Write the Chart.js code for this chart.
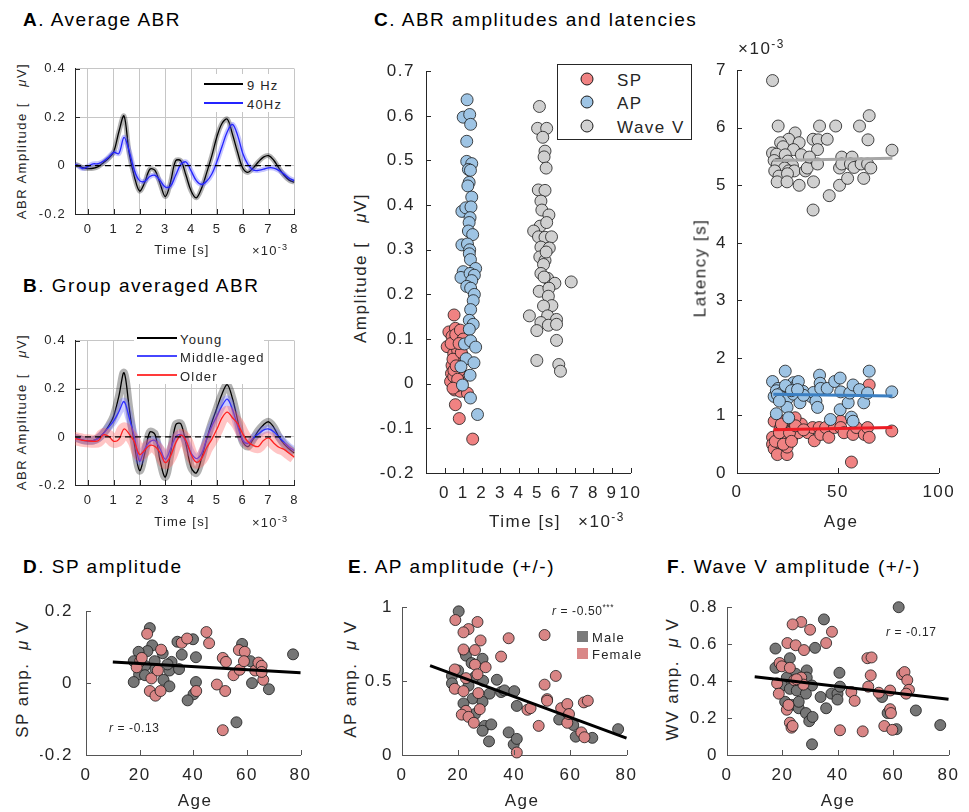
<!DOCTYPE html>
<html>
<head>
<meta charset="utf-8">
<script src="https://cdn.jsdelivr.net/npm/chart.js@4.4.1/dist/chart.umd.min.js"></script>
<style>
  body { margin: 0; background: #fff; }
  #fig { position: relative; width: 969px; height: 812px; overflow: hidden; background: #fff;
         font-family: "Liberation Sans", Arial, sans-serif; color: #262626; }
  .box { position: absolute; }
  .t { position: absolute; white-space: nowrap; line-height: 1; }
  .title { font-size: 19px; letter-spacing: 1.5px; color: #000; transform: translateY(-50%); }
  .ax { font-size: 17px; letter-spacing: 1.5px; }
  .sm { font-size: 13px; letter-spacing: 1.2px; }
  .rot { transform: translate(-50%, -50%) rotate(-90deg); }
  .ctr { transform: translate(-50%, -50%); }
  .mid { transform: translateY(-50%); }
  .seg { position: absolute; height: 2px; }
  .wbg { position: absolute; background: #fff; }
  .dot { position: absolute; width: 11px; height: 11px; border-radius: 50%; border: 1px solid #1a1a1a; transform: translate(-50%, -50%); }
  .sq { position: absolute; width: 11px; height: 11px; }
  sup { font-size: 70%; }
</style>
</head>
<body>
<div id="fig">
  <div class="box" id="cA"></div>
  <div class="box" id="cB"></div>
  <div class="box" id="cCL"></div>
  <div class="box" id="cCR"></div>
  <div class="box" id="cD"></div>
  <div class="box" id="cE"></div>
  <div class="box" id="cF"></div>

  <!-- panel titles -->
  <div class="t title" style="left:23px;top:19px"><b>A</b>. Average ABR</div>
  <div class="t title" style="left:23px;top:285px"><b>B</b>. Group averaged ABR</div>
  <div class="t title" style="left:374px;top:19px"><b>C</b>. ABR amplitudes and latencies</div>
  <div class="t title" style="left:23px;top:566px"><b>D</b>. SP amplitude</div>
  <div class="t title" style="left:348px;top:566px"><b>E</b>. AP amplitude (+/-)</div>
  <div class="t title" style="left:667px;top:566px"><b>F</b>. Wave V amplitude (+/-)</div>

  <!-- axis titles -->
  <div class="t sm rot" style="left:21px;top:141px;letter-spacing:1.5px">ABR Amplitude [&nbsp;&nbsp;&nbsp;<i>μ</i>V]</div>
  <div class="t sm ctr" style="left:182px;top:249px">Time [s]</div>
  <div class="t sm mid" style="left:252px;top:250px">×10<sup>-3</sup></div>
  <div class="t sm rot" style="left:21px;top:412px;letter-spacing:1.5px">ABR Amplitude [&nbsp;&nbsp;&nbsp;<i>μ</i>V]</div>
  <div class="t sm ctr" style="left:182px;top:521px">Time [s]</div>
  <div class="t sm mid" style="left:252px;top:522px">×10<sup>-3</sup></div>

  <div class="t ax rot" style="left:360px;top:268px">Amplitude [&nbsp;&nbsp;&nbsp;<i>μ</i>V]</div>
  <div class="t ax ctr" style="left:525px;top:521px">Time [s]</div>
  <div class="t ax mid" style="left:578px;top:521px">×10<sup>-3</sup></div>
  <div class="t ax rot" style="left:700px;top:268px">Latency [s]</div>
  <div class="t ax mid" style="left:738px;top:48px">×10<sup>-3</sup></div>
  <div class="t ax ctr" style="left:841px;top:521px">Age</div>

  <div class="t ax rot" style="left:22px;top:679px">SP amp.&nbsp;&nbsp;<i>μ</i> V</div>
  <div class="t ax ctr" style="left:195px;top:800px">Age</div>
  <div class="t ax rot" style="left:350px;top:679px">AP amp.&nbsp;&nbsp;<i>μ</i> V</div>
  <div class="t ax ctr" style="left:522px;top:800px">Age</div>
  <div class="t ax rot" style="left:672px;top:679px">WV amp.&nbsp;&nbsp;<i>μ</i> V</div>
  <div class="t ax ctr" style="left:838px;top:800px">Age</div>

  <!-- legends -->
  <div class="wbg" style="left:200px;top:74px;width:93px;height:38px"></div>
  <div class="seg" style="left:204px;top:83px;width:39px;background:#000"></div>
  <div class="t sm mid" style="left:247px;top:85px">9 Hz</div>
  <div class="seg" style="left:204px;top:102px;width:39px;background:#2424ff"></div>
  <div class="t sm mid" style="left:247px;top:104px">40Hz</div>

  <div class="wbg" style="left:134px;top:329px;width:130px;height:55px"></div>
  <div class="seg" style="left:137px;top:337px;width:40px;background:#000"></div>
  <div class="t sm mid" style="left:180px;top:339px">Young</div>
  <div class="seg" style="left:137px;top:355px;width:40px;background:#4646ff"></div>
  <div class="t sm mid" style="left:180px;top:357px">Middle-aged</div>
  <div class="seg" style="left:137px;top:374px;width:40px;background:#ff3a3a"></div>
  <div class="t sm mid" style="left:180px;top:376px">Older</div>

  <div style="position:absolute;left:557px;top:64px;width:133px;height:74px;border:1px solid #262626;background:#fff"></div>
  <div class="dot" style="left:587px;top:79px;background:#f08282"></div>
  <div class="t ax mid" style="left:617px;top:80px">SP</div>
  <div class="dot" style="left:587px;top:102px;background:#9ec4e4"></div>
  <div class="t ax mid" style="left:617px;top:103px">AP</div>
  <div class="dot" style="left:587px;top:126px;background:#d0d0d0"></div>
  <div class="t ax mid" style="left:617px;top:127px">Wave V</div>

  <div class="sq" style="left:577px;top:631px;background:#7a7a7a"></div>
  <div class="t sm mid" style="left:592px;top:637px">Male</div>
  <div class="sq" style="left:577px;top:648px;background:#d98787"></div>
  <div class="t sm mid" style="left:592px;top:654px">Female</div>

  <div class="t sm mid" style="left:109px;top:728px;font-size:12px;letter-spacing:0.6px"><i>r</i> = -0.13</div>
  <div class="t sm mid" style="left:552px;top:610px;font-size:12px;letter-spacing:0.6px"><i>r</i> = -0.50<sup>***</sup></div>
  <div class="t sm mid" style="left:886px;top:632px;font-size:12px;letter-spacing:0.6px"><i>r</i> = -0.17</div>
</div>

<script>
// ---- A / B : ABR waveforms (time in ms) ----
const timeMs = [-0.6, -0.4, -0.2, 0, 0.2, 0.4, 0.6, 0.8, 1.0, 1.2, 1.4, 1.6, 1.8, 2.0, 2.2, 2.4, 2.6, 2.8, 3.0, 3.2, 3.4, 3.6,
                3.8, 4.0, 4.2, 4.4, 4.6, 4.8, 5.0, 5.2, 5.4, 5.6, 5.8, 6.0, 6.2, 6.4, 6.6, 6.8, 7.0, 7.2, 7.4, 7.6, 7.8, 8.0];
const abr9Hz = [0.006, 0.002, -0.008, -0.012, -0.011, -0.004, 0.012, 0.03, 0.057, 0.14, 0.205, 0.05, -0.045, -0.105, -0.07,
                -0.015, -0.02, -0.075, -0.128, -0.07, 0.02, 0.02, -0.04, -0.105, -0.133, -0.095, -0.03, 0.04, 0.12, 0.175, 0.192,
                0.13, 0.055, -0.01, -0.028, -0.01, 0.015, 0.035, 0.041, 0.022, -0.01, -0.04, -0.06, -0.069];
const abr40Hz = [0.006, 0.0, -0.012, -0.003, 0.007, 0.008, 0.018, 0.035, 0.055, 0.05, 0.117, 0.06, -0.02, -0.062, -0.065,
                 -0.045, -0.04, -0.062, -0.089, -0.085, -0.04, 0.005, 0.015, -0.022, -0.062, -0.078, -0.065, -0.035, 0.017, 0.08,
                 0.14, 0.17, 0.125, 0.05, 0.005, -0.018, -0.02, -0.015, -0.009, -0.01, -0.02, -0.035, -0.052, -0.062];
const abrYoung = [-0.004, -0.006, -0.013, -0.016, -0.015, -0.005, 0.015, 0.045, 0.087, 0.17, 0.267, 0.12, -0.03, -0.14, -0.07,
                  0.02, 0.01, -0.1, -0.167, -0.07, 0.05, 0.055, -0.03, -0.127, -0.15, -0.09, -0.01, 0.06, 0.12, 0.18, 0.217,
                  0.16, 0.07, -0.02, -0.04, -0.01, 0.025, 0.05, 0.063, 0.04, 0.0, -0.03, -0.05, -0.067];
const abrMiddle = [-0.004, -0.006, -0.013, -0.016, -0.015, -0.006, 0.015, 0.04, 0.067, 0.105, 0.147, 0.08, 0.0, -0.1, -0.05,
                   -0.02, -0.015, -0.05, -0.093, -0.05, 0.0, 0.01, -0.02, -0.067, -0.09, -0.07, -0.01, 0.045, 0.087, 0.13, 0.157,
                   0.115, 0.045, -0.013, -0.027, -0.005, 0.012, 0.028, 0.033, 0.022, 0.0, -0.022, -0.043, -0.057];
const abrOlder = [-0.005, -0.009, -0.014, -0.016, -0.018, -0.016, 0.009, 0.003, -0.018, -0.01, 0.033, 0.012, -0.02, -0.073, -0.055,
                  -0.035, -0.04, -0.065, -0.107, -0.08, -0.025, 0.007, -0.015, -0.073, -0.105, -0.09, -0.045, -0.01, 0.033, 0.08,
                  0.103, 0.08, 0.055, 0.013, -0.02, -0.035, -0.04, -0.015, -0.004, -0.025, -0.043, -0.052, -0.068, -0.084];
const abrTicksX = [0, 1, 2, 3, 4, 5, 6, 7, 8];
const abrTicksY = [-0.2, 0, 0.2, 0.4];

// ---- C left : amplitude vs peak time (ms) ----
const spTime = [0.51, 0.23, 0.58, 0.40, 0.75, 0.14, 0.61, 0.89, 0.49, 0.72, 0.58, 0.40, 0.67, 0.37, 0.75, 0.61, 0.54, 0.84, 1.23,
                0.58, 0.79, 1.51, 0.96, 0.84, 0.32, 0.49, 0.93, 0.70, 0.55, 0.80, 0.45, 0.65, 0.35, 0.60, 0.85, 0.50, 0.70,
                0.90, 1.00, 0.45, 0.62, 0.78];
const spAmp = [0.154, 0.116, 0.124, 0.106, 0.107, 0.083, 0.085, 0.089, 0.067, 0.060, 0.049, 0.041, 0.034, 0.023, 0.019, 0.001,
               -0.014, -0.017, -0.021, -0.047, -0.078, -0.124, 0.063, 0.049, 0.005, 0.016, 0.001, 0.075, 0.095, 0.030, 0.055, -0.005,
               0.090, 0.110, 0.120, 0.030, 0.010, 0.070, 0.100, -0.010, 0.040, 0.090];
const apTime = [1.21, 1.00, 1.35, 1.40, 1.19, 1.19, 1.46, 1.28, 1.39, 1.32, 1.25, 1.46, 0.93, 1.14, 1.42, 1.37, 1.32, 1.28, 1.51,
                0.93, 1.23, 1.35, 1.33, 1.39, 1.67, 1.00, 0.88, 1.37, 1.60, 1.46, 1.19, 1.40, 1.60, 1.54, 1.40, 1.33, 1.54, 1.33,
                1.07, 1.40, 1.67, 1.16, 1.58, 0.88, 1.37, 0.96, 1.39, 1.77];
const apAmp = [0.636, 0.597, 0.603, 0.581, 0.543, 0.498, 0.493, 0.480, 0.478, 0.451, 0.443, 0.418, 0.386, 0.394, 0.396, 0.372,
               0.361, 0.342, 0.334, 0.311, 0.313, 0.300, 0.291, 0.278, 0.258, 0.251, 0.238, 0.247, 0.243, 0.231, 0.218, 0.214,
               0.200, 0.186, 0.166, 0.142, 0.133, 0.122, 0.089, 0.096, 0.082, 0.056, 0.047, 0.038, 0.019, -0.003, -0.032, -0.069];
const wvTime = [5.10, 5.00, 5.49, 5.28, 5.40, 5.35, 5.46, 5.04, 5.40, 5.18, 5.23, 5.61, 5.14, 4.79, 5.49, 5.05, 5.40, 5.75, 5.18,
                5.63, 5.12, 5.40, 5.32, 5.18, 5.54, 5.93, 6.81, 5.09, 5.61, 5.58, 5.77, 5.32, 4.56, 5.54, 6.02, 5.18, 5.58, 4.96,
                6.02, 4.96, 6.14, 6.23, 6.02, 5.35, 5.46];
const wvAmp = [0.621, 0.572, 0.572, 0.552, 0.521, 0.508, 0.483, 0.434, 0.433, 0.409, 0.389, 0.378, 0.353, 0.342, 0.361, 0.329,
               0.328, 0.329, 0.306, 0.304, 0.284, 0.276, 0.267, 0.247, 0.236, 0.225, 0.228, 0.207, 0.214, 0.196, 0.175, 0.174,
               0.152, 0.152, 0.144, 0.137, 0.131, 0.119, 0.097, 0.052, 0.043, 0.028, 0.133, 0.239, 0.295];
const timeTicksC = [0, 1, 2, 3, 4, 5, 6, 7, 8, 9, 10];
const ampTicksC = [-0.2, -0.1, 0, 0.1, 0.2, 0.3, 0.4, 0.5, 0.6, 0.7];

// ---- C right : latency (ms) vs age ----
const wvAgeL = [17.6, 20.4, 28.8, 25.6, 21.6, 30.8, 22.8, 28.0, 17.6, 19.6, 23.9, 31.9, 18.4, 25.2, 20.0, 27.5, 23.6, 18.7, 25.6,
                28.4, 20.8, 25.0, 19.9, 24.8, 30.8, 33.9, 34.8, 37.7, 40.9, 40.2, 44.7, 39.9, 35.9, 39.9, 37.9, 37.7, 45.7, 48.9,
                50.8, 50.8, 51.9, 51.9, 54.8, 57.0, 56.2, 58.0, 60.7, 65.5, 64.9, 62.8, 61.5, 64.7, 66.3, 76.8];
const wvLat = [6.82, 6.03, 5.91, 5.80, 5.74, 5.74, 5.67, 5.62, 5.56, 5.54, 5.53, 5.53, 5.43, 5.42, 5.36, 5.34, 5.30, 5.25, 5.25,
               5.25, 5.16, 5.20, 5.06, 5.06, 5.00, 5.25, 5.30, 5.80, 6.03, 5.79, 5.80, 5.62, 5.49, 5.37, 5.06, 4.57, 4.82, 6.03,
               5.00, 5.30, 5.49, 5.37, 5.12, 5.49, 5.37, 5.31, 6.03, 6.21, 5.79, 5.12, 5.37, 5.37, 5.30, 5.61];
const apAgeL = [17.6, 23.9, 20.4, 18.4, 19.5, 22.0, 25.6, 22.7, 25.2, 24.8, 19.5, 25.6, 28.0, 29.6, 30.4, 28.0, 31.2, 32.7, 36.7,
                37.9, 39.1, 39.9, 40.9, 41.2, 41.5, 44.7, 46.3, 48.4, 51.1, 51.4, 51.1, 55.1, 55.9, 57.5, 56.7, 57.5, 60.7, 62.8,
                64.7, 65.5, 76.7, 20.0, 24.0, 27.0, 33.0, 21.0, 30.0];
const apLat = [1.59, 1.77, 1.47, 1.33, 1.43, 1.39, 1.47, 1.27, 1.30, 1.14, 1.03, 0.96, 1.57, 1.53, 1.59, 1.37, 1.22, 1.42, 1.33,
               1.40, 1.25, 1.14, 1.70, 1.56, 1.47, 1.47, 0.93, 1.59, 1.65, 1.41, 1.10, 1.22, 1.39, 1.53, 0.97, 0.90, 1.45, 1.22,
               1.39, 1.77, 1.41, 1.36, 1.52, 1.43, 1.35, 1.25, 1.45];
const spAgeL = [18.4, 17.6, 17.6, 18.4, 20.0, 24.8, 24.8, 20.8, 23.0, 25.6, 21.6, 24.8, 27.2, 28.0, 27.2, 30.4, 31.9, 35.1, 37.5,
                38.3, 40.7, 41.5, 43.9, 45.5, 48.3, 51.4, 51.4, 53.0, 56.7, 57.5, 59.1, 63.1, 64.7, 65.5, 65.5, 76.7, 28.8, 23.0,
                19.0, 21.0, 23.0, 26.0, 29.0, 33.0, 22.0, 27.0];
const spLat = [0.90, 0.62, 0.50, 0.42, 0.32, 0.32, 0.45, 0.53, 0.62, 0.62, 0.79, 0.85, 0.90, 0.76, 0.62, 0.70, 0.85, 0.70, 0.79,
               0.56, 0.79, 0.67, 0.79, 0.62, 0.79, 0.90, 0.79, 0.70, 0.19, 0.67, 0.79, 0.67, 0.79, 0.62, 1.53, 0.73, 0.96, 0.90,
               0.55, 0.70, 0.50, 0.70, 0.82, 0.75, 0.85, 0.55];
const latFitAge = [18, 77];
const wvLatFit = [5.43, 5.47];
const apLatFit = [1.37, 1.34];
const spLatFit = [0.75, 0.79];
const ageTicksC = [0, 50, 100];
const latTicks = [0, 1, 2, 3, 4, 5, 6, 7];

// ---- D : SP amplitude vs age ----
const maleAgeD = [23.8, 24.7, 22.9, 19.6, 28.6, 25.6, 17.8, 22.0, 25.9, 19.8, 22.0, 17.8, 28.9, 31.1, 31.1, 31.9, 34.7, 34.1, 35.7,
                  39.9, 41.0, 40.1, 37.9, 41.0, 56.1, 58.2, 61.3, 61.9, 68.2, 77.2, 30.4];
const maleSpD = [0.153, 0.105, 0.089, 0.087, 0.083, 0.061, 0.061, 0.048, 0.039, 0.024, 0.022, 0.003, 0.009, -0.009, 0.035, 0.059,
                 0.039, 0.115, 0.079, 0.122, 0.072, -0.031, -0.048, 0.003, -0.109, 0.109, 0.061, 0.0, -0.017, 0.08, 0.052];
const femaleAgeD = [22.8, 28.0, 20.2, 18.9, 24.4, 23.8, 25.9, 27.8, 35.7, 37.7, 41.1, 44.9, 45.9, 48.8, 51.0, 52.2, 51.9, 51.0,
                    55.0, 57.3, 57.0, 59.2, 58.9, 63.1, 64.3, 65.5, 66.1, 20.8, 26.8, 65.5];
const femaleSpD = [0.137, 0.093, 0.061, 0.044, 0.013, -0.022, -0.035, -0.022, 0.112, 0.124, -0.022, 0.142, 0.111, -0.004, 0.07,
                   0.059, -0.022, -0.131, 0.022, 0.037, 0.092, 0.087, 0.061, 0.035, 0.057, 0.048, 0.009, 0.07, 0.035, 0.031];

// ---- E : AP amplitude vs age ----
const maleAgeE = [20.2, 22.5, 22.8, 28.7, 24.8, 20.0, 17.8, 26.0, 28.9, 17.8, 23.7, 25.2, 31.2, 21.9, 28.7, 26.0, 29.5, 31.8, 28.7,
                  31.0, 33.8, 35.3, 36.5, 40.0, 40.9, 38.0, 39.8, 40.9, 57.8, 56.0, 61.0, 61.9, 67.8, 77.0];
const maleApE = [0.972, 0.694, 0.672, 0.651, 0.622, 0.572, 0.535, 0.528, 0.502, 0.485, 0.469, 0.382, 0.415, 0.349, 0.36, 0.277,
                 0.197, 0.207, 0.164, 0.092, 0.509, 0.426, 0.437, 0.432, 0.332, 0.153, 0.072, 0.109, 0.288, 0.24, 0.203, 0.124,
                 0.116, 0.175];
const femaleAgeE = [19.0, 26.9, 23.7, 21.9, 28.0, 21.9, 26.0, 26.0, 29.8, 18.8, 26.9, 22.8, 18.8, 21.9, 27.2, 27.7, 22.8, 21.3,
                    23.7, 25.6, 35.3, 38.0, 40.9, 44.7, 45.8, 48.7, 50.8, 50.8, 51.7, 51.7, 54.8, 56.7, 58.9, 58.9, 63.9, 65.0,
                    64.8, 66.2, 59.5];
const femaleApE = [0.913, 0.90, 0.852, 0.83, 0.775, 0.714, 0.71, 0.611, 0.594, 0.579, 0.546, 0.52, 0.448, 0.432, 0.419, 0.31,
                   0.299, 0.273, 0.258, 0.218, 0.666, 0.79, 0.017, 0.306, 0.317, 0.197, 0.812, 0.476, 0.378, 0.367, 0.535, 0.317,
                   0.345, 0.218, 0.153, 0.12, 0.356, 0.367, 0.277];

// ---- F : wave V amplitude vs age ----
const maleAgeF = [62.0, 35.0, 17.5, 31.8, 22.7, 17.5, 24.8, 28.8, 28.8, 21.6, 19.8, 30.7, 24.8, 22.7, 25.2, 28.5, 33.8, 37.7, 39.9,
                  39.9, 35.8, 21.0, 23.3, 25.9, 25.9, 28.5, 29.7, 30.9, 30.7, 40.6, 40.8, 56.0, 58.0, 61.2, 68.2, 77.0];
const maleWvF = [0.80, 0.734, 0.576, 0.58, 0.524, 0.472, 0.44, 0.458, 0.419, 0.419, 0.376, 0.376, 0.393, 0.358, 0.349, 0.332,
                 0.314, 0.332, 0.332, 0.3, 0.253, 0.288, 0.271, 0.253, 0.288, 0.227, 0.183, 0.206, 0.058, 0.445, 0.37, 0.314,
                 0.227, 0.14, 0.241, 0.162];
const femaleAgeF = [26.8, 23.7, 30.0, 37.9, 35.8, 21.8, 24.8, 27.8, 19.0, 19.8, 22.7, 26.8, 18.1, 27.6, 18.7, 21.6, 22.2, 22.7,
                    23.3, 23.7, 40.8, 44.9, 46.1, 49.0, 50.7, 52.2, 51.9, 51.0, 54.8, 58.9, 58.9, 59.2, 56.8, 59.7, 63.2, 64.1,
                    65.1, 65.7, 64.7, 24.3, 25.1];
const femaleWvF = [0.72, 0.707, 0.678, 0.667, 0.606, 0.606, 0.594, 0.568, 0.498, 0.48, 0.472, 0.419, 0.388, 0.381, 0.332, 0.245,
                   0.271, 0.175, 0.148, 0.157, 0.134, 0.341, 0.293, 0.128, 0.524, 0.528, 0.431, 0.37, 0.337, 0.349, 0.248, 0.227,
                   0.157, 0.136, 0.437, 0.449, 0.405, 0.353, 0.332, 0.405, 0.41];

// regression lines, D-F
const fitAge = [10, 80];
const spFitD = [0.059, 0.029];
const apFitE = [0.605, 0.114];
const wvFitF = [0.423, 0.302];
const ageTicks = [0, 20, 40, 60, 80];
const spTicksD = [-0.2, 0, 0.2];
const apTicksE = [0, 0.5, 1];
const wvTicksF = [0, 0.2, 0.4, 0.6, 0.8];

const FONT = '"Liberation Sans", Arial, sans-serif';
const MALE = '#767676', FEMALE = '#d98585';

const pts = (xs, ys) => xs.map((x, i) => ({ x: x, y: ys[i] }));

// MATLAB style: ticks pointing into the plot, plus canvas letter spacing
const inTicks = {
    id: 'inTicks',
    beforeDraw(chart) {
        chart.ctx.letterSpacing = chart.$spacing || '0px';
    },
    afterDraw(chart) {
        const ctx = chart.ctx, a = chart.chartArea, sx = chart.scales.x, sy = chart.scales.y;
        ctx.save();
        ctx.strokeStyle = chart.$axisColor || '#262626';
        ctx.lineWidth = 1;
        ctx.beginPath();
        sx.ticks.forEach(t => {
            const p = Math.round(sx.getPixelForValue(t.value)) + 0.5;
            ctx.moveTo(p, a.bottom); ctx.lineTo(p, a.bottom - 5);
        });
        sy.ticks.forEach(t => {
            const p = Math.round(sy.getPixelForValue(t.value)) + 0.5;
            ctx.moveTo(a.left, p); ctx.lineTo(a.left + 5, p);
        });
        ctx.stroke();
        ctx.restore();
    }
};

function makeChart(id, plot, cb, o) {
    const wrap = document.getElementById(id);
    wrap.style.left = cb.l + 'px';
    wrap.style.top = cb.t + 'px';
    wrap.style.width = (cb.r - cb.l) + 'px';
    wrap.style.height = (cb.b - cb.t) + 'px';
    const cv = document.createElement('canvas');
    wrap.appendChild(cv);

    const axis = (min, max, ticks, pad, fit) => ({
        type: 'linear', min: min, max: max,
        afterBuildTicks: s => { s.ticks = ticks.map(v => ({ value: v })); },
        afterFit: fit,
        grid: { display: !!o.grid, drawOnChartArea: true, drawTicks: false, color: '#c6c6c6', lineWidth: 1 },
        border: { display: true, color: o.axisColor || '#262626', width: 1 },
        ticks: { padding: pad, color: '#262626', autoSkip: false, maxRotation: 0,
                 font: { family: FONT, size: o.tickSize }, callback: v => String(v) }
    });

    const chart = new Chart(cv, {
        type: 'scatter',
        data: { datasets: o.datasets },
        options: {
            responsive: true,
            maintainAspectRatio: false,
            animation: false,
            events: [],
            layout: { padding: { left: 0, top: plot.t - cb.t, right: cb.r - plot.r, bottom: 0 } },
            plugins: {
                legend: { display: false },
                tooltip: { enabled: false }
            },
            scales: {
                x: axis(o.xMin, o.xMax, o.xTicks, o.xPad, s => { s.height = cb.b - plot.b; }),
                y: axis(o.yMin, o.yMax, o.yTicks, o.yPad, s => { s.width = plot.l - cb.l; })
            }
        },
        plugins: [inTicks]
    });
    chart.$spacing = o.spacing;
    chart.$axisColor = o.axisColor;
    chart.draw();
    return chart;
}

function curve(ys, color, width, order) {
    return { type: 'line', data: pts(timeMs, ys), borderColor: color, borderWidth: width, pointRadius: 0,
             tension: 0.35, order: order };
}
function zeroLine() {
    return { type: 'line', data: pts([-0.5, 8], [0, 0]), borderColor: '#000', borderWidth: 1.2,
             borderDash: [6, 4], pointRadius: 0, order: 0 };
}
function dots(xs, ys, fill, r, order) {
    return { type: 'scatter', data: pts(xs, ys), pointRadius: r, pointBackgroundColor: fill,
             pointBorderColor: '#1a1a1a', pointBorderWidth: 0.8, clip: false, order: order };
}
function fitLine(xs, ys, color, order) {
    return { type: 'line', data: pts(xs, ys), borderColor: color, borderWidth: 3, pointRadius: 0,
             clip: false, order: order };
}

// A
makeChart('cA', { l: 75, t: 64, r: 297, b: 214 }, { l: 30, t: 52, r: 306, b: 246 }, {
    grid: true, tickSize: 13, spacing: '1.2px',
    xMin: -0.5, xMax: 8, xTicks: abrTicksX, xPad: 8,
    yMin: -0.2, yMax: 0.4, yTicks: abrTicksY, yPad: 9,
    datasets: [
        zeroLine(),
        curve(abr40Hz, '#2424ff', 1.3, 1),
        curve(abr40Hz, 'rgba(90,90,255,0.35)', 5, 2),
        curve(abr9Hz, '#000', 1.3, 3),
        curve(abr9Hz, 'rgba(0,0,0,0.3)', 5, 4)
    ]
});

// B
makeChart('cB', { l: 75, t: 336, r: 297, b: 485 }, { l: 30, t: 324, r: 306, b: 516 }, {
    grid: true, tickSize: 13, spacing: '1.2px',
    xMin: -0.5, xMax: 8, xTicks: abrTicksX, xPad: 8,
    yMin: -0.2, yMax: 0.4, yTicks: abrTicksY, yPad: 9,
    datasets: [
        zeroLine(),
        curve(abrOlder, '#ff2020', 1.3, 1),
        curve(abrOlder, 'rgba(255,90,90,0.35)', 13, 2),
        curve(abrMiddle, '#3030ff', 1.3, 3),
        curve(abrMiddle, 'rgba(110,110,255,0.35)', 8, 4),
        curve(abrYoung, '#000', 1.3, 5),
        curve(abrYoung, 'rgba(0,0,0,0.3)', 8, 6)
    ]
});

// C left
makeChart('cCL', { l: 426, t: 64, r: 635, b: 473 }, { l: 375, t: 50, r: 650, b: 512 }, {
    tickSize: 17, spacing: '1.5px',
    xMin: -1, xMax: 10, xTicks: timeTicksC, xPad: 10,
    yMin: -0.2, yMax: 0.7, yTicks: ampTicksC, yPad: 11,
    datasets: [
        dots(spTime, spAmp, '#f08282', 6, 3),
        dots(apTime, apAmp, '#9ec4e4', 6, 2),
        dots(wvTime, wvAmp, '#d0d0d0', 6, 1)
    ]
});

// C right
makeChart('cCR', { l: 737, t: 64, r: 945, b: 473 }, { l: 695, t: 50, r: 962, b: 512 }, {
    tickSize: 17, spacing: '1.5px',
    xMin: 0, xMax: 100, xTicks: ageTicksC, xPad: 9,
    yMin: 0, yMax: 7, yTicks: latTicks, yPad: 10,
    datasets: [
        fitLine(latFitAge, wvLatFit, '#a6a6a6', 0),
        fitLine(latFitAge, apLatFit, '#3b7fc2', 0),
        fitLine(latFitAge, spLatFit, '#ec1c24', 0),
        dots(wvAgeL, wvLat, '#d0d0d0', 6, 1),
        dots(apAgeL, apLat, '#9ec4e4', 6, 2),
        dots(spAgeL, spLat, '#f08282', 6, 3)
    ]
});

// D, E, F
const bottomPanels = [
    ['cD', { l: 86, t: 602, r: 307, b: 755 }, { l: 40, t: 588, r: 320, b: 792 }, -0.2, 0.2, spTicksD, 13,
     maleAgeD, maleSpD, femaleAgeD, femaleSpD, spFitD],
    ['cE', { l: 402, t: 602, r: 631, b: 755 }, { l: 360, t: 588, r: 646, b: 792 }, 0, 1, apTicksE, 9,
     maleAgeE, maleApE, femaleAgeE, femaleApE, apFitE],
    ['cF', { l: 727, t: 602, r: 955, b: 755 }, { l: 684, t: 588, r: 968, b: 792 }, 0, 0.8, wvTicksF, 9,
     maleAgeF, maleWvF, femaleAgeF, femaleWvF, wvFitF]
];
bottomPanels.forEach(p => {
    makeChart(p[0], p[1], p[2], {
        tickSize: 17, spacing: '1.5px', axisColor: '#555',
        xMin: 0, xMax: 80, xTicks: ageTicks, xPad: 10,
        yMin: p[3], yMax: p[4], yTicks: p[5], yPad: p[6],
        datasets: [
            fitLine(fitAge, p[11], '#000', 0),
            dots(p[9], p[10], FEMALE, 5.5, 1),
            dots(p[7], p[8], MALE, 5.5, 2)
        ]
    });
});
</script>
</body>
</html>
